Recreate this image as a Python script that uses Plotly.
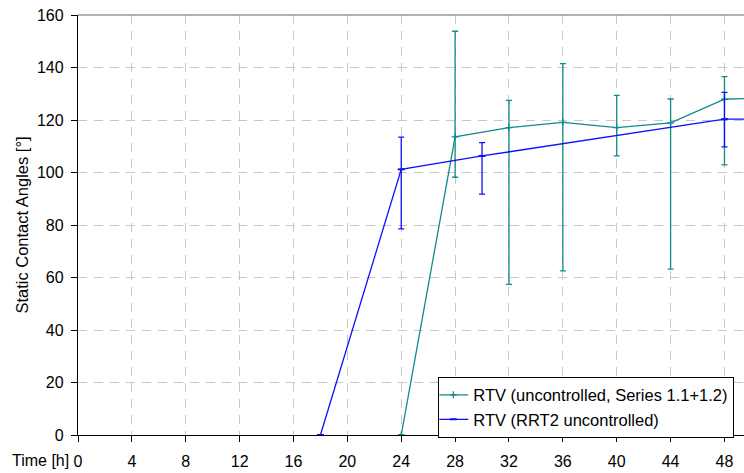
import plotly.graph_objects as go

# Series 1: RTV (uncontrolled, Series 1.1+1.2)
t1 = [24, 28, 32, 36, 40, 44, 48, 52]
y1 = [0, 113.6, 117.1, 119.1, 117.1, 118.9, 127.9, 128.6]
e1_plus = [0, 40.2, 10.4, 22.4, 12.3, 9.1, 8.6, 0]
e1_minus = [0, 15.4, 59.7, 56.6, 10.8, 55.7, 25.0, 0]

# Series 2: RTV (RRT2 uncontrolled)
t2 = [18, 24, 30, 48, 52]
y2 = [0, 101.2, 106.3, 120.3, 120.3]
e2_plus = [0, 12.3, 5.1, 10.2, 0]
e2_minus = [0, 22.7, 14.5, 10.5, 0]

x_ticks = list(range(0, 49, 4))
y_ticks = list(range(0, 161, 20))

teal = "#118a8a"
blue = "#0f0fff"
font = "Liberation Sans, Arial, sans-serif"

fig = go.Figure()
fig.add_trace(go.Scatter(
    x=t1, y=y1, mode="lines+markers", name="RTV (uncontrolled, Series 1.1+1.2)",
    line=dict(color=teal, width=1.3),
    marker=dict(symbol="cross-thin", size=5, color=teal, line=dict(color=teal, width=1.3)),
    error_y=dict(type="data", symmetric=False, array=e1_plus, arrayminus=e1_minus,
                 color=teal, thickness=1.3, width=3),
))
fig.add_trace(go.Scatter(
    x=t2, y=y2, mode="lines+markers", name="RTV (RRT2 uncontrolled)",
    line=dict(color=blue, width=1.3),
    marker=dict(symbol="line-ew", size=5, color=blue, line=dict(color=blue, width=2)),
    error_y=dict(type="data", symmetric=False, array=e2_plus, arrayminus=e2_minus,
                 color=blue, thickness=1.3, width=3),
))

grid = dict(showgrid=True, gridcolor="#c8c8c8", griddash="9px,7px", gridwidth=1)

fig.update_layout(
    width=744, height=473,
    margin=dict(l=78, r=0, t=15, b=38),
    paper_bgcolor="white", plot_bgcolor="white",
    font=dict(family=font, size=16, color="black"),
    showlegend=True,
    legend=dict(x=0.541, y=0.139, xanchor="left", yanchor="top",
                bgcolor="white", bordercolor="black", borderwidth=1,
                font=dict(size=16.5), tracegroupgap=0, itemwidth=30,
                indentation=-6),
    xaxis=dict(range=[0, 49.45], tickvals=x_ticks, ticktext=[str(v) for v in x_ticks],
               showline=True, linecolor="black", linewidth=1.3,
               ticks="outside", ticklen=6, tickcolor="black",
               ticklabelstandoff=6, zeroline=False, **grid),
    yaxis=dict(range=[0, 160], tickvals=y_ticks,
               showline=True, linecolor="black", linewidth=1.3,
               ticks="outside", ticklen=6, tickcolor="black",
               ticklabelstandoff=4, zeroline=False, **grid,
               title=dict(text="Static Contact Angles [°]", font=dict(size=16.5), standoff=4)),
    shapes=[dict(type="line", xref="paper", yref="paper", x0=0, x1=1, y0=1, y1=1,
                 line=dict(color="#999999", width=1.3))],
    annotations=[dict(text="Time [h]", xref="paper", yref="paper", x=-0.011, y=0,
                      xanchor="right", yanchor="top", yshift=-15, showarrow=False,
                      font=dict(size=16))],
)

fig.write_html("out.html")
